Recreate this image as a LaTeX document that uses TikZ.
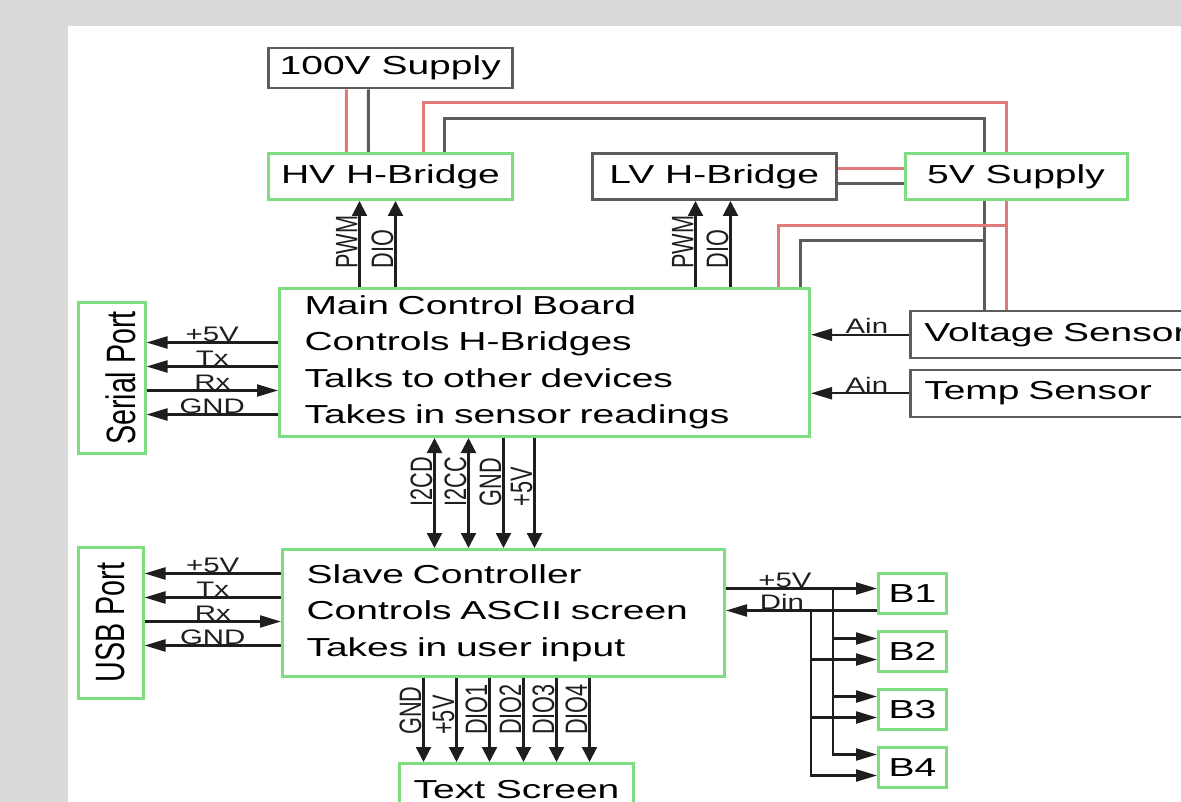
\documentclass[tikz,border=0pt]{standalone}
\usepackage{fontspec}
\setmainfont{Liberation Sans}[FakeStretch=1.5]
\newfontfamily\lblfont{Liberation Sans}[FakeStretch=1.4]
\newfontfamily\rotfont{Liberation Sans}[FakeStretch=0.7]
\usetikzlibrary{arrows.meta,positioning,calc}
\definecolor{cgreen}{HTML}{80DC80}
\definecolor{cred}{HTML}{E07A7A}
\definecolor{cgray}{HTML}{5C5C5C}
\definecolor{cline}{HTML}{1E1E1E}

\begin{document}
\begin{tikzpicture}[x=1pt,y=-1pt,font=\fontsize{26}{36.5}\selectfont]
  \tikzstyle{box}=[draw=cgreen,line width=3pt,fill=white,inner sep=0pt,anchor=north west]
  \tikzstyle{gbox}=[box,draw=cgray,line width=2.5pt]
  \tikzstyle{wire}=[line width=3pt]
  \tikzstyle{harr}=[line width=2.2pt,draw=cline,-{Triangle[length=21pt,width=12pt]}]
  \tikzstyle{varr}=[line width=2.2pt,draw=cline,-{Triangle[length=15pt,width=15pt]}]
  \tikzstyle{dvarr}=[varr,{Triangle[length=15pt,width=15pt]}-{Triangle[length=15pt,width=15pt]}]
  \tikzstyle{lbl}=[font=\lblfont\fontsize{21}{24}\selectfont,inner sep=0pt,text=cline]
  \tikzstyle{rlbl}=[font=\rotfont\fontsize{31}{34}\selectfont,rotate=90,anchor=south west,inner sep=1pt,text=cline]
  \tikzstyle{port}=[box,anchor=center,rotate=90,font=\rotfont\fontsize{41}{44}\selectfont]

  % page
  \useasboundingbox (0,0) rectangle (1181,802);
  \fill[gray!30] (0,0) rectangle (1181,802);
  \fill[white] (68,26) rectangle (1181,802);

  % supplies and bridges
  \node[gbox,minimum width=244pt,minimum height=40pt] (v100) at (267,47) {100V Supply};
  \node[box,minimum width=244pt,minimum height=46pt] (hv) at (267,152) {HV H-Bridge};
  \node[gbox,minimum width=244pt,minimum height=46pt,right=77pt of hv] (lv) {LV H-Bridge};
  \node[box,minimum width=222pt,minimum height=46pt,right=66pt of lv] (sup5) {5V Supply};
  % boards
  \node[box,minimum width=530pt,minimum height=148pt,text width=480pt,align=left] (main) at (278,287)
    {Main Control Board\\Controls H-Bridges\\Talks to other devices\\Takes in sensor readings};
  \node[box,minimum width=442pt,minimum height=127pt,text width=394pt,align=left] (slave) at (281,548)
    {Slave Controller\\Controls ASCII screen\\Takes in user input};
  % sensors
  \node[gbox,minimum width=300pt,minimum height=47pt,text width=272pt,align=left] (vsens) at (909,310) {Voltage Sensor};
  \node[gbox,minimum width=300pt,minimum height=47pt,text width=272pt,align=left,below=9pt of vsens] (tsens) {Temp Sensor};
  % ports
  \node[port,minimum width=150pt,minimum height=67pt,text height=48pt] (serial) at (111.5,378) {Serial Port};
  \node[port,minimum width=151pt,minimum height=65pt] (usb) at (110.5,622.5) {USB Port};
  % buttons and screen
  \node[box,minimum width=68pt,minimum height=40pt] (b1) at (877,572) {B1};
  \node[box,minimum width=68pt,minimum height=40pt,below=15pt of b1] (b2) {B2};
  \node[box,minimum width=68pt,minimum height=40pt,below=15pt of b2] (b3) {B3};
  \node[box,minimum width=68pt,minimum height=40pt,below=15pt of b3] (b4) {B4};
  \node[box,minimum width=234pt,minimum height=52pt] (tscr) at (398,762) {Text Screen};

  % power wires
  \draw[wire,cred] ([xshift=-44pt]v100.south) -- ([xshift=-44pt]hv.north);
  \draw[wire,cgray] ([xshift=-22pt]v100.south) -- ([xshift=-22pt]hv.north);
  \draw[wire,cred] ([xshift=33pt]hv.north) |- ([xshift=-10pt,yshift=49pt]sup5.north) -- ([xshift=-10pt]sup5.north);
  \draw[wire,cgray] ([xshift=54pt]hv.north) |- ([xshift=-32pt,yshift=33pt]sup5.north) -- ([xshift=-32pt]sup5.north);
  \draw[wire,cred] ([xshift=-10pt]sup5.south) -- ([xshift=-10pt]sup5.south |- vsens.north);
  \draw[wire,cgray] ([xshift=-32pt]sup5.south) -- ([xshift=-32pt]sup5.south |- vsens.north);
  \draw[wire,cred] ([xshift=-10pt,yshift=-25pt]sup5.south) -| ([xshift=234pt]main.north);
  \draw[wire,cgray] ([xshift=-32pt,yshift=-40pt]sup5.south) -| ([xshift=256pt]main.north);
  \draw[wire,cred] ([yshift=8pt]lv.east) -- ([yshift=8pt]lv.east -| sup5.west);
  \draw[wire,cgray] ([yshift=-7pt]lv.east) -- ([yshift=-7pt]lv.east -| sup5.west);

  % bridge control
  \foreach \dx/\txt in {-185/PWM,-149/DIO,151/PWM,186/DIO}
    \draw[varr] ([xshift=\dx pt]main.north) -- ([xshift=\dx pt]main.north |- hv.south) node[rlbl,pos=0.19] {\txt};
  % bus to slave
  \foreach \dx/\txt in {-110/I2CD,-76/I2CC}
    \draw[dvarr] ([xshift=\dx pt]main.south) -- ([xshift=\dx pt]main.south |- slave.north) node[rlbl,pos=0.64] {\txt};
  \foreach \dx/\txt in {-41/GND,-10/+5V}
    \draw[varr] ([xshift=\dx pt]main.south) -- ([xshift=\dx pt]main.south |- slave.north) node[rlbl,pos=0.64] {\txt};
  % screen lines
  \foreach \dx/\txt in {-80/GND,-47/+5V,-14/DIO1,20/DIO2,53/DIO3,86/DIO4}
    \draw[varr] ([xshift=\dx pt]slave.south) -- ([xshift=\dx pt]slave.south |- tscr.north) node[rlbl,pos=0.70] {\txt};

  % serial and usb
  \foreach \dy/\txt in {20/+5V,-4/Tx,-52/GND}
    \draw[harr] ([yshift=\dy pt]main.west) -- ([yshift=\dy pt]main.west -| serial.south) node[lbl,midway,above] {\txt};
  \draw[harr] ([yshift=-28pt]main.west -| serial.south) -- ([yshift=-28pt]main.west) node[lbl,midway,above] {Rx};
  \foreach \dy/\txt in {39.5/+5V,15.5/Tx,-32.5/GND}
    \draw[harr] ([yshift=\dy pt]slave.west) -- ([yshift=\dy pt]slave.west -| usb.south) node[lbl,midway,above] {\txt};
  \draw[harr] ([yshift=-8.5pt]slave.west -| usb.south) -- ([yshift=-8.5pt]slave.west) node[lbl,midway,above] {Rx};

  % sensors
  \draw[harr] (vsens.west) -- (vsens.west -| main.east) node[lbl,pos=0.43,above] {Ain};
  \draw[harr] (tsens.west) -- (tsens.west -| main.east) node[lbl,pos=0.43,above] {Ain};

  % buttons
  \coordinate (pj) at ([xshift=-44pt,yshift=5pt]b1.west);
  \coordinate (dj) at ([xshift=-66pt,yshift=-17pt]b1.west);
  \draw[harr] (pj -| slave.east) -- (b1.west |- pj) node[lbl,pos=0.39,above] {+5V};
  \draw[harr] (b1.west |- dj) -- (dj -| slave.east) node[lbl,pos=0.63,above] {Din};
  \foreach \b in {b2,b3,b4} {
    \draw[harr] (pj) |- ([yshift=13pt]\b.west);
    \draw[harr] (dj) |- ([yshift=-8pt]\b.west);
  }
\end{tikzpicture}
\end{document}
